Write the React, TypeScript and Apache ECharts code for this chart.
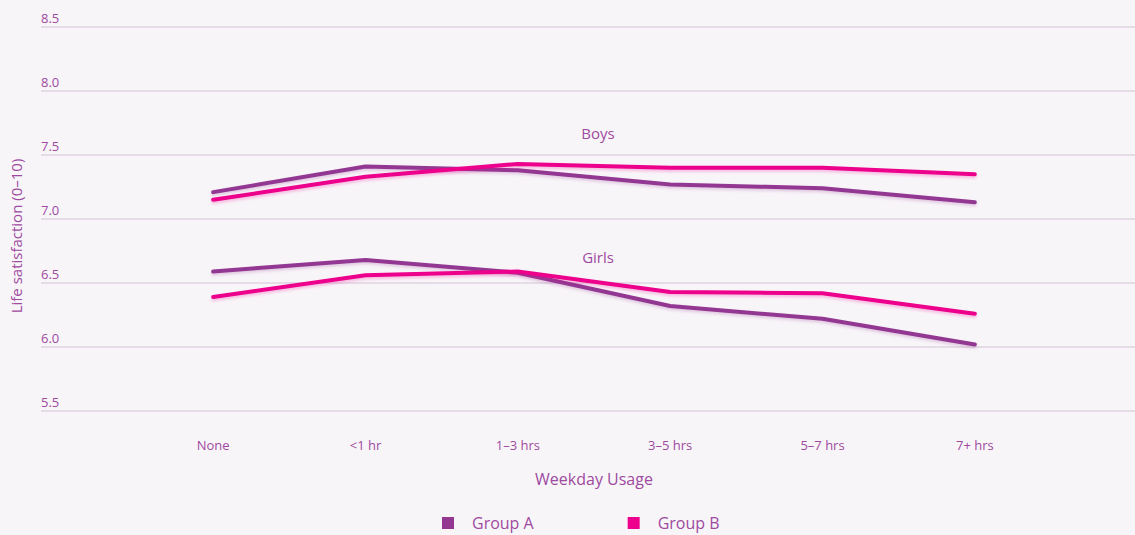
import React, { useEffect, useRef } from "react";
import * as echarts from "echarts";

const categories = ["None", "<1 hr", "1–3 hrs", "3–5 hrs", "5–7 hrs", "7+ hrs"];
const boysGroupA = [7.21, 7.41, 7.38, 7.27, 7.24, 7.13];
const boysGroupB = [7.15, 7.33, 7.43, 7.4, 7.4, 7.35];
const girlsGroupA = [6.59, 6.68, 6.58, 6.32, 6.22, 6.02];
const girlsGroupB = [6.39, 6.56, 6.59, 6.43, 6.42, 6.26];
const yTicks = { min: 5.5, max: 8.5, interval: 0.5 };

const PURPLE = "#933792";
const PINK = "#EC008C";
const TEXT = "#9E4A9F";
const BG = "#F8F5F9";
const FONT = "'Open Sans', Lato, sans-serif";

export default function App() {
  const ref = useRef<HTMLDivElement>(null);
  useEffect(() => {
    document.body.style.margin = "0";
    document.body.style.background = BG;
    const chart = echarts.init(ref.current!, null, { renderer: "svg" });
    const mk = (name: string, data: number[], color: string, shadow: string) => ({
      name,
      type: "line",
      xAxisIndex: 1,
      yAxisIndex: 1,
      data,
      symbol: "none",
      lineStyle: {
        color,
        width: 4,
        cap: "round",
        shadowColor: shadow,
        shadowBlur: 3,
        shadowOffsetY: 2,
      },
      itemStyle: { color },
    });
    chart.setOption({
      animation: false,
      backgroundColor: BG,
      textStyle: { fontFamily: FONT },
      grid: [
        { left: 41, right: 0, top: 27, bottom: 124 },
        { left: 137, right: 84, top: 27, bottom: 124 },
      ],
      xAxis: [
        { type: "value", gridIndex: 0, show: false, min: 0, max: 1 },
        {
          type: "category",
          gridIndex: 1,
          data: categories,
          boundaryGap: true,
          axisLine: { show: false },
          axisTick: { show: false },
          axisLabel: { color: TEXT, fontSize: 13, margin: 27, fontFamily: FONT },
          name: "Weekday Usage",
          nameLocation: "middle",
          nameGap: 60,
          nameTextStyle: { color: TEXT, fontSize: 16, fontFamily: FONT },
        },
      ],
      yAxis: [
        {
          type: "value",
          gridIndex: 0,
          min: yTicks.min,
          max: yTicks.max,
          interval: yTicks.interval,
          axisLine: { show: false },
          axisTick: { show: false },
          splitLine: { lineStyle: { color: "#E6DCE7", width: 2 } },
          axisLabel: {
            inside: true,
            color: TEXT,
            fontSize: 13,
            fontFamily: FONT,
            verticalAlign: "bottom",
            margin: 0,
            padding: [0, 0, 3, 0],
            formatter: (v: number) => v.toFixed(1),
          },
        },
        {
          type: "value",
          gridIndex: 1,
          min: yTicks.min,
          max: yTicks.max,
          interval: yTicks.interval,
          show: false,
          splitLine: { show: false },
        },
      ],
      legend: {
        data: ["Group A", "Group B"],
        left: 442,
        top: 515,
        padding: 0,
        icon: "rect",
        itemWidth: 12,
        itemHeight: 12,
        itemGap: 94,
        textStyle: { color: TEXT, fontSize: 16, fontFamily: FONT, padding: [0, 0, 0, 13] },
      },
      graphic: [
        {
          type: "text",
          x: 598,
          y: 133,
          style: { text: "Boys", fill: TEXT, font: `15px ${FONT}`, align: "center", verticalAlign: "middle" },
        },
        {
          type: "text",
          x: 598,
          y: 257,
          style: { text: "Girls", fill: TEXT, font: `15px ${FONT}`, align: "center", verticalAlign: "middle" },
        },
        {
          type: "text",
          x: 16,
          y: 236,
          rotation: Math.PI / 2,
          style: {
            text: "Life satisfaction (0–10)",
            fill: TEXT,
            font: `15px ${FONT}`,
            align: "center",
            verticalAlign: "middle",
          },
        },
      ],
      series: [
        mk("Group A", boysGroupA, PURPLE, "rgba(147,55,146,0.25)"),
        mk("Group B", boysGroupB, PINK, "rgba(236,0,140,0.25)"),
        mk("Group A", girlsGroupA, PURPLE, "rgba(147,55,146,0.25)"),
        mk("Group B", girlsGroupB, PINK, "rgba(236,0,140,0.25)"),
      ],
    });
    return () => chart.dispose();
  }, []);
  return <div ref={ref} style={{ width: 1135, height: 535 }} />;
}
